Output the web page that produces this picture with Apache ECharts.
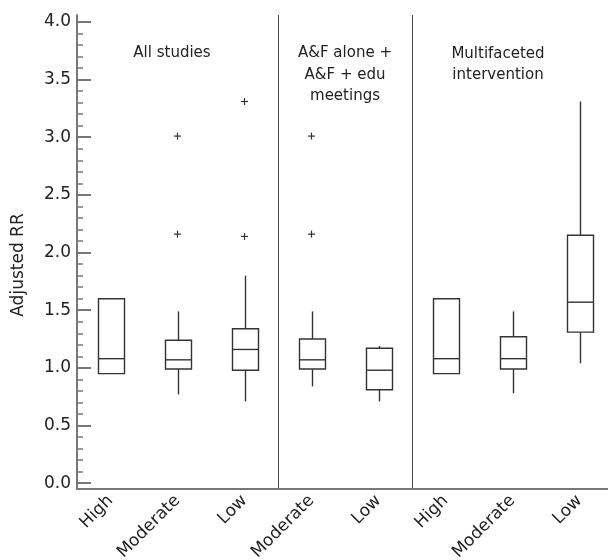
<!DOCTYPE html>
<html>
<head>
<meta charset="utf-8">
<script src="https://cdn.jsdelivr.net/npm/echarts@6/dist/echarts.min.js"></script>
<style>
  html, body { margin: 0; padding: 0; background: #fff; }
  #chart { width: 608px; height: 560px; }
</style>
</head>
<body>
<div id="chart"></div>
<script>
// x categories, three panels: all studies | A&F (+edu) | multifaceted
var categories = ['High', 'Moderate', 'Low', 'Moderate', 'Low', 'High', 'Moderate', 'Low']
// five-number summaries
var boxMin    = [0.95, 0.77, 0.71, 0.84, 0.71, 0.95, 0.78, 1.04]
var boxQ1     = [0.95, 0.99, 0.98, 0.99, 0.81, 0.95, 0.99, 1.31]
var boxMedian = [1.08, 1.07, 1.16, 1.07, 0.98, 1.08, 1.08, 1.57]
var boxQ3     = [1.60, 1.24, 1.34, 1.25, 1.17, 1.60, 1.27, 2.15]
var boxMax    = [1.60, 1.49, 1.80, 1.49, 1.19, 1.60, 1.49, 3.31]
// outliers (+ marks): category index and value
var outlierCat   = [1, 1, 2, 2, 3, 3]
var outlierValue = [3.01, 2.16, 3.31, 2.14, 3.01, 2.16]
// y axis tick labels
var majorTicks = [0, 0.5, 1, 1.5, 2, 2.5, 3, 3.5, 4]
var minorTicks = []
for (var i = 0; i <= 40; i++) minorTicks.push(+(i / 10).toFixed(1))
var panelTitles = ['All studies', 'A&F alone +\nA&F + edu\nmeetings', 'Multifaceted\nintervention']

var FONT = 'DejaVu Sans'
var INK = '#222'
var AXIS = '#777'

var chart = echarts.init(document.getElementById('chart'))

var boxData = categories.map(function (c, i) {
  return [i, boxMin[i], boxQ1[i], boxMedian[i], boxQ3[i], boxMax[i]]
})
var outlierData = outlierCat.map(function (c, i) {
  return [c, outlierValue[i]]
})

function renderBox(params, api) {
  var x = api.value(0)
  var lo = api.coord([x, api.value(1)])
  var q1 = api.coord([x, api.value(2)])
  var md = api.coord([x, api.value(3)])
  var q3 = api.coord([x, api.value(4)])
  var hi = api.coord([x, api.value(5)])
  var hw = 13
  var cx = Math.round(q1[0]) + 0.5
  var st = { stroke: '#333', lineWidth: 1.4, fill: null }
  return {
    type: 'group',
    children: [
      { type: 'line', shape: { x1: cx, y1: hi[1], x2: cx, y2: q3[1] }, style: st },
      { type: 'line', shape: { x1: cx, y1: q1[1], x2: cx, y2: lo[1] }, style: st },
      {
        type: 'rect',
        shape: { x: cx - hw, y: q3[1], width: hw * 2, height: q1[1] - q3[1] },
        style: { fill: '#fff', stroke: '#333', lineWidth: 1.4 }
      },
      { type: 'line', shape: { x1: cx - hw, y1: md[1], x2: cx + hw, y2: md[1] }, style: st }
    ]
  }
}

function renderPlus(params, api) {
  var p = api.coord([api.value(0), api.value(1)])
  var s = 3.5
  var st = { stroke: '#333', lineWidth: 1.2 }
  return {
    type: 'group',
    children: [
      { type: 'line', shape: { x1: p[0] - s, y1: p[1], x2: p[0] + s, y2: p[1] }, style: st },
      { type: 'line', shape: { x1: p[0], y1: p[1] - s, x2: p[0], y2: p[1] + s }, style: st }
    ]
  }
}

var option = {
  backgroundColor: '#fff',
  animation: false,
  textStyle: { fontFamily: FONT },
  grid: { left: 77, top: 15, width: 536, height: 474, containLabel: false, outerBoundsMode: 'none' },
  xAxis: {
    type: 'category',
    data: categories,
    boundaryGap: true,
    axisLine: { onZero: false, lineStyle: { color: AXIS, width: 2 } },
    axisTick: { show: false },
    axisLabel: { rotate: 45, margin: 9, color: INK, fontSize: 17, fontFamily: FONT, interval: 0 },
    splitLine: {
      show: true,
      interval: function (index) { return index === 3 || index === 5 },
      lineStyle: { color: '#444', width: 1 }
    }
  },
  yAxis: [
    {
      type: 'value',
      min: -0.05,
      max: 4.06,
      position: 'left',
      name: 'Adjusted RR',
      nameLocation: 'middle',
      nameGap: 50,
      nameTextStyle: { color: INK, fontSize: 17, fontFamily: FONT, padding: [0, 26, 0, 0] },
      axisLine: { show: true, onZero: false, lineStyle: { color: AXIS, width: 2 } },
      axisTick: { show: true, inside: true, length: 14, customValues: majorTicks, lineStyle: { color: AXIS, width: 2 } },
      axisLabel: {
        customValues: majorTicks,
        margin: 6,
        color: INK,
        fontSize: 17,
        fontFamily: FONT,
        formatter: function (v) { return v.toFixed(1) }
      },
      splitLine: { show: false }
    },
    {
      type: 'value',
      min: -0.05,
      max: 4.06,
      position: 'left',
      axisLine: { show: false, onZero: false },
      axisTick: { show: true, inside: true, length: 6, customValues: minorTicks, lineStyle: { color: AXIS, width: 1.5 } },
      axisLabel: { show: false },
      splitLine: { show: false }
    }
  ],
  graphic: [
    { type: 'text', x: 172, y: 53, style: { text: panelTitles[0], align: 'center', verticalAlign: 'middle', font: '15px ' + FONT, fill: INK } },
    { type: 'text', x: 345, y: 75, style: { text: panelTitles[1], align: 'center', verticalAlign: 'middle', lineHeight: 21.5, font: '15px ' + FONT, fill: INK } },
    { type: 'text', x: 498, y: 64.5, style: { text: panelTitles[2], align: 'center', verticalAlign: 'middle', lineHeight: 21.5, font: '15px ' + FONT, fill: INK } }
  ],
  series: [
    {
      type: 'custom',
      name: 'box',
      renderItem: renderBox,
      encode: { x: 0, y: [1, 2, 3, 4, 5] },
      data: boxData,
      z: 3
    },
    {
      type: 'custom',
      name: 'outliers',
      renderItem: renderPlus,
      encode: { x: 0, y: 1 },
      data: outlierData,
      z: 3
    }
  ]
}

chart.setOption(option)
</script>
</body>
</html>
